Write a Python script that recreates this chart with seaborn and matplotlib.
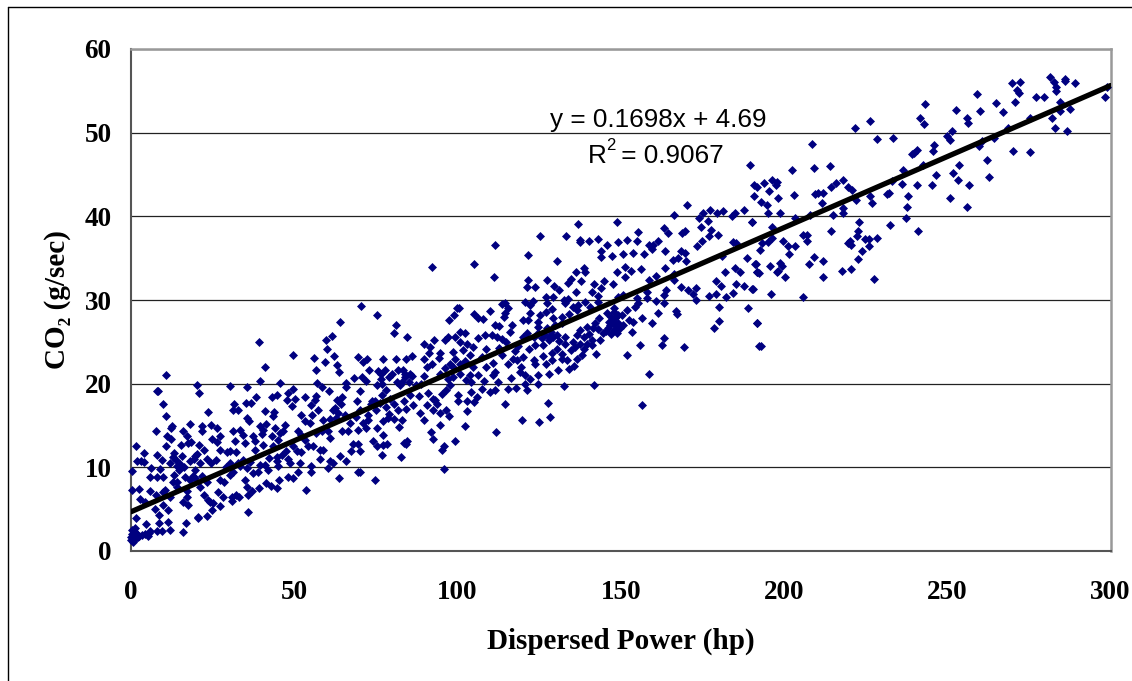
import pandas as pd
import matplotlib
matplotlib.use('Agg')
import matplotlib.pyplot as plt
from matplotlib.lines import Line2D
import seaborn as sns

# (dispersed power, co2), split by power range
idle_cluster = [(0, 1.3), (0.3, 2), (0.5, 1.6), (0.8, 2.4), (1, 1.4), (1.2, 1.9), (0.2, 2.5), (1.5, 2.2), (1.6, 1.5),
                (0.6, 1.1), (2, 1.7), (2.5, 1.8), (3.5, 1.9), (4.2, 2), (5.2, 1.8), (5.6, 2.1), (1.1, 2.8), (0.1, 1.7)]
band_0_25 = [(0.4, 9.6), (0.4, 7.25), (1.5, 12.6), (2.4, 7.4), (2.8, 6.2), (1.4, 3.9), (1.9, 10.7), (3, 10.8), (4, 10.6),
             (3.9, 11.7), (4.4, 5.9), (4.5, 3.2), (5.9, 7.2), (6.2, 9.9), (5.8, 8.9), (7.9, 8.9), (7.6, 14.4), (8, 11.5),
             (8.3, 19.1), (8, 19.1), (9.9, 17.6), (10.6, 21), (10.6, 16.1), (7.8, 6.7), (7.2, 5), (8.5, 4.3), (8.6, 3.3),
             (8.1, 2.4), (9.5, 2.4), (5.8, 2.4), (11.4, 3.5), (11.9, 2.5), (11.4, 4.9), (9.7, 5.5), (10.4, 7.3), (9.8, 7),
             (11.9, 6.5), (9.9, 8.9), (8.9, 9.8), (9.4, 10.9), (10.6, 12.5), (10.9, 13.7), (12.4, 13.4), (12.7, 14.9),
             (12.3, 14.7), (11.9, 10.5), (13.2, 11.7), (13.8, 10.9), (14, 10.1), (13.3, 9.1), (12.8, 8.2), (14, 7.7),
             (15.8, 14.4), (17.3, 13.8), (18.1, 15.2), (15.3, 12.7), (15.5, 11.3), (18.4, 13), (20.1, 19.9), (20.8, 18.9),
             (23.7, 16.6), (21.6, 14.9), (21.7, 14.4), (24.4, 15.1), (18.1, 10.7), (19.6, 11.3), (20.8, 12.7), (22.3, 12.1),
             (21.1, 10.5), (16.5, 8.9), (18.1, 8.5), (19.6, 8.7), (19.6, 9.7), (21.8, 9), (23.2, 8.3), (21.1, 7.7),
             (22.3, 6.7), (23.5, 6.1), (24.2, 5.9), (23.4, 4.2), (20.6, 3.9), (20.5, 4.1), (16.8, 3.3), (15.8, 2.3),
             (15.8, 5.9), (17.6, 5.5), (17.2, 6.5), (16.3, 10), (17, 7.2), (14.6, 9.7), (15, 10.4), (12.9, 11.2),
             (19.2, 11), (20.2, 11.6), (17.5, 12.9), (23.2, 11), (24.4, 10.5), (18.9, 9), (14.2, 8.2)]
band_25_50 = [(26.2, 14.7), (27.2, 13.8), (24.7, 13.4), (26.2, 13), (27.2, 12.1), (29.3, 11.8), (30.3, 12), (30.4, 19.7),
              (35.6, 19.6), (31.6, 17.6), (31.3, 16.9), (32.9, 16.9), (35.2, 17.7), (36.9, 17.7), (38.4, 18.4), (35.4, 15.9),
              (36.2, 15.5), (39.2, 25), (39.5, 20.3), (41.1, 22), (45.5, 20.1), (41.1, 16.7), (43.6, 16.1), (43.3, 18.4),
              (44.7, 18.7), (43.8, 16.6), (39.6, 15), (41.3, 15.2), (40.5, 14.5), (31.3, 14.3), (33.4, 14.5), (34.2, 13.9),
              (31.8, 13.1), (32.3, 11.8), (37.4, 13.7), (38, 13.1), (38, 12.1), (40.3, 12.7), (43.1, 13.7), (44.1, 14.7),
              (45.6, 14.1), (47.1, 15.1), (46.6, 14.3), (45.1, 13.3), (43.4, 12.5), (30.3, 10.5), (32.9, 10.5), (34.4, 10.9),
              (35.4, 9.9), (31.3, 9.5), (30.3, 9.1), (27.2, 8.5), (28.5, 8.3), (26.7, 7), (28.1, 6.4), (25.2, 5.7), (27.2, 5.4),
              (24.7, 4.9), (30.8, 6.5), (30.8, 6), (32.3, 6.7), (33.2, 6.4), (35.9, 4.7), (35.9, 6.7), (37.2, 7.2), (39.2, 7.5),
              (34.9, 8.5), (35.4, 7.7), (37.4, 9.3), (39, 9.5), (39.5, 10.3), (42, 9.7), (41.5, 8.1), (42.8, 7.8), (44.6, 7.5),
              (45.4, 8.5), (45.1, 10.1), (44.6, 10.7), (46.1, 11.5), (48.2, 11), (48.7, 10.5), (48.2, 8.9), (49.5, 8.7),
              (49.7, 23.4), (48.2, 18.9), (49.7, 19.4), (47.9, 18), (49.2, 17.3), (49.7, 12.5), (47.5, 12), (36.4, 10.6),
              (33.5, 10.2), (41, 10.3), (42.3, 11.1), (26, 10.9), (29, 10), (44.7, 11.2), (40, 14), (34.8, 12.9)]
band_50_75 = [(51, 9.4), (51.7, 10.5), (53.7, 7.3), (55.1, 9.5), (55, 10.2), (58, 11), (60.4, 9.9), (60.9, 10.8), (61.9, 10.5),
              (63.7, 8.7), (64, 11.3), (65.8, 10.8), (67.3, 11.9), (68.1, 12.8), (69.6, 12.8), (70.1, 11.9), (69.6, 9.5), (70.1, 9.4),
              (74.7, 8.5), (50.2, 18.2), (53.3, 18.4), (52, 16.3), (56, 23.1), (59.7, 25.2), (60.1, 24.2), (61.7, 25.7), (64, 27.4),
              (59.4, 22.6), (62.2, 23.3), (63, 22.2), (63.7, 21.4), (56.8, 21.6), (57.1, 20.1), (58.4, 19.6), (60.6, 19.1), (66, 20.1),
              (66, 19.6), (64.7, 18.4), (63.2, 18.1), (56.8, 18.5), (56.3, 18.1), (55.2, 17.4), (57.3, 16.8), (55.5, 16.2), (58.9, 15.6),
              (60.9, 15.8), (62.4, 17.1), (63.5, 16.5), (54.8, 15.3), (53.3, 15.5), (51.2, 14.3), (52.2, 13.9), (53.3, 13.3), (54.3, 12.5),
              (55.8, 12.5), (57.9, 12.1), (58.9, 12.1), (50.7, 11.9), (52.2, 11.8), (56.8, 14.1), (58.4, 14.3), (60.4, 14.3), (61.1, 13.5),
              (64.5, 14.3), (66.5, 14.3), (67, 15.3), (69.6, 23.2), (70.4, 29.3), (75.3, 28.2), (71.1, 22.6), (72.4, 23), (72.9, 21.6),
              (68.3, 20.7), (70.6, 20.8), (72.1, 20.3), (75.2, 19.9), (70, 19.1), (69.2, 17.9), (73.7, 17.9), (70.1, 16.9), (72.7, 16.3),
              (68.9, 16), (75.2, 14.7), (71.1, 15.3), (69.6, 14.5), (72.1, 14.7), (74.2, 13.1), (75.2, 12.5), (75.7, 21.5), (62.8, 15.9),
              (61.8, 16.9), (64.2, 17.6), (65.4, 16.2), (73.4, 17.6), (74.6, 17.9), (72.5, 15.7), (74.9, 16.8)]
band_75_100 = [(92.3, 34), (95.9, 9.8), (96, 12.5), (95.3, 12.1), (92.6, 13.4), (91.8, 14.2), (82.8, 11.2), (76.8, 11.5), (77.3, 12.7),
               (78.5, 12.8), (77.3, 13.9), (83.7, 12.9), (84.5, 13.2), (82, 14.8), (83, 15.7), (80.4, 15.8), (77.3, 15.5), (94.7, 15.1),
               (97.5, 16.1), (96.5, 16.9), (94.7, 16.5), (92.6, 16.9), (89.8, 15.7), (88.6, 16.5), (86.5, 17.4), (81.9, 16.9), (84.3, 17),
               (83.5, 17.9), (80.4, 17.6), (93.7, 17.6), (90.8, 17.4), (88.3, 18.5), (91.1, 18.9), (92.6, 18.2), (85.3, 18.6), (95.2, 18.8),
               (96.4, 19.2), (97.7, 19.8), (97.2, 20.6), (89.8, 20.9), (86.2, 20.9), (84, 20.8), (82.9, 20.2), (81.4, 20.2), (85, 20.2),
               (81.9, 21.6), (77.8, 21.6), (77.1, 22.9), (81.1, 23), (84.1, 23), (86.2, 23.3), (80.6, 26), (81.2, 27), (84.5, 25.6),
               (89.8, 24.8), (91.6, 24.4), (91.4, 23.7), (89.8, 22.9), (92.1, 22.4), (90.8, 22), (94.2, 23.1), (94.7, 23.7), (98.5, 23.8),
               (97.7, 22.4), (98.6, 22), (96.2, 25.2), (97.2, 25.6), (99.3, 25.6), (97.5, 27.6), (99, 28.2), (99.8, 29.1), (79, 20.8),
               (80, 21.1), (82.5, 19.9), (78.2, 19.2), (79.4, 18.2), (76.4, 17.7), (76.8, 18.7), (78.1, 17.2), (83.3, 21.6), (83.9, 21.2),
               (85.5, 21.2), (87.2, 19.8), (78.6, 15.9), (79.1, 16.4), (76.5, 20.6), (77, 20), (76.6, 21.2), (84.2, 12.8), (93.1, 18),
               (98.7, 20.8), (88.9, 20), (94.5, 21.2), (96.3, 21.9), (99.1, 23), (92.8, 25.2)]
band_100_125 = [(105, 34.3), (111.6, 36.6), (111.1, 32.8), (121.7, 35.4), (99.2, 13.2), (111.9, 14.2), (102.2, 15), (103, 16.7),
                (119.7, 15.7), (124.9, 15.4), (114.4, 17.6), (100.3, 18.6), (100.3, 17.9), (102.8, 17.9), (105.2, 17.8), (105.9, 18.4),
                (104, 19), (107.4, 19.4), (108, 20.3), (110, 19), (111.5, 19.2), (112.5, 20.2), (115.6, 19.4), (117.9, 19.5), (121.3, 19.2),
                (120.7, 20), (122.2, 20.6), (124.8, 21), (124.8, 20), (123.8, 22.4), (123.3, 22.8), (120.2, 23.2), (119.2, 21.4),
                (120.7, 21), (116.5, 20.7), (118.2, 22.8), (115.6, 22.4), (111, 22.5), (111.5, 21.4), (111, 21), (108.6, 22), (108.6, 24.2),
                (104.9, 22), (103.7, 21), (102.6, 20.4), (104, 20.2), (100.8, 21.2), (100.8, 22.4), (102.3, 22.7), (101.8, 24), (103, 24.7),
                (104.7, 24.4), (103.9, 23.4), (100.8, 25), (100.8, 26.2), (102.3, 26.1), (100.6, 29), (105.2, 28.3), (106.4, 27.9),
                (107.7, 27.7), (109.9, 28.7), (111.5, 27), (112.8, 26.9), (106.4, 25.5), (108.5, 25.8), (110.5, 25.8), (112, 25.6),
                (113.6, 25.3), (114.9, 25), (113.6, 29.5), (114.6, 29.6), (115.6, 29), (114.6, 28.4), (114.1, 28), (116.6, 27), (116.1, 26.2),
                (120.2, 25.6), (121.2, 26), (120.2, 27.6), (121.7, 27.6), (122.2, 28.4), (120.7, 29.8), (122.2, 29.4), (123, 29.9),
                (121.5, 32.4), (121.4, 31.6), (123.8, 31.5), (124.8, 27.4), (123.8, 24.6), (124.8, 26), (124.8, 26.8), (123.3, 25.6),
                (117.5, 23.9), (118.6, 24.5), (119.5, 22), (113.7, 23.4), (106.3, 21), (107.5, 23.2), (112.7, 24.3), (116.9, 23), (122, 24.2)]
band_125_150 = [(125.2, 37.6), (133.2, 37.6), (136.9, 39.1), (148.8, 39.3), (130.5, 34.7), (137.5, 37.2), (137.6, 36.9), (140.4, 37),
                (143.1, 37.3), (145.7, 36.6), (149.2, 36.9), (144.1, 35.9), (144.1, 35.1), (147.3, 35.3), (127.8, 17.65), (128.4, 16),
                (132.5, 19.7), (141.7, 19.8), (128, 21.2), (130.9, 21.6), (134.3, 21.8), (135.7, 22.1), (128.9, 22.8), (127, 22.4),
                (126.3, 23.3), (142.3, 23.6), (127.3, 32.35), (129.6, 31.7), (127, 30.3), (129.4, 30.4), (131.1, 31.2), (133.7, 32),
                (134.7, 32.5), (137.8, 32.3), (136.2, 31), (136.2, 33.4), (138.7, 33.8), (139.1, 33.3), (141.9, 31.9), (143.8, 31.4),
                (144.9, 32.3), (147.5, 31.9), (148.7, 33.4), (141.2, 30.9), (142.9, 30.5), (142.9, 29.8), (139.1, 29.8), (137, 29.4),
                (135.5, 29.2), (132.5, 30), (133.8, 30.1), (133, 29.6), (127.3, 29.6), (127, 28.6), (128.9, 28.9), (125.3, 28.2),
                (129.1, 27.8), (132, 28), (134, 28.3), (136.5, 28.8), (140.6, 29.2), (143.4, 27.8), (145.7, 28.5), (147.8, 29),
                (149.3, 30.4), (147.8, 27.2), (146.7, 27), (147.8, 26.4), (148.8, 26), (149.8, 26.6), (148.3, 27.8), (146.2, 26.6),
                (147.3, 27.6), (149.3, 27.2), (144.7, 26), (147.8, 28.6), (143.7, 25.2), (141.6, 26.6), (139.6, 26.8), (137.6, 26.4),
                (136.5, 25.8), (138.6, 25.6), (141.1, 25.2), (139.6, 24.8), (137.6, 24.8), (136, 24.4), (138.6, 24.2), (141.1, 24.6),
                (138.1, 23.4), (136.5, 23), (133, 24.8), (133, 25.6), (132, 23.6), (133.5, 22.8), (132, 23), (130.4, 24.2), (128.9, 23.7),
                (129.4, 25.6), (127.9, 25.2), (126.3, 24.6), (127.3, 26.6), (130.4, 25.8), (129.9, 27), (132, 27.2), (127.9, 25.6),
                (125.8, 25.4), (126.5, 25.9), (128.5, 26.2), (131, 25.1), (134.8, 24), (135.3, 25), (140.3, 25.9), (146.5, 27.4),
                (148.5, 26.9), (145.5, 26.3), (149.2, 28.2), (147, 28), (143, 26.5), (146.9, 25.9), (142, 27.2)]
band_150_200 = [(152, 37.2), (155, 37.1), (155.3, 38.1), (150.8, 35.5), (153.7, 35.6), (157.2, 35.5), (158.8, 36.6), (160, 36.6), (159.5, 36.1),
                (161.4, 37.1), (163.7, 35.9), (163.3, 38.6), (164.5, 38), (166.4, 40.1), (170.4, 41.3), (168.7, 38), (169.7, 38.2), (168.6, 35.8),
                (169.7, 35.6), (166.1, 34.8), (167.5, 35), (170, 34.7), (173.3, 36.5), (174.9, 37), (174.7, 38.7), (174.1, 39.8), (175.1, 40.4),
                (177.4, 40.7), (179.4, 40.4), (181.4, 40.6), (176.7, 39.5), (177.6, 38.4), (176.9, 37.6), (179.8, 37.8), (184, 40), (185, 40.4),
                (187.7, 40.7), (190.3, 39.3), (184.5, 36.9), (185.3, 36.8), (188.8, 35), (191.4, 34.3), (181.1, 35.2), (181.8, 33.4), (179.1, 32.3),
                (180.7, 31.7), (176.9, 30.5), (179.2, 30.7), (182.1, 30.4), (184.3, 30.8), (185.1, 33.8), (186.6, 33.3), (185.3, 31.9), (187.8, 31.7),
                (190.3, 31.3), (191.7, 33.4), (188.9, 29), (191.8, 27.2), (192.4, 24.5), (180, 29.2), (180, 27.5), (178.7, 26.7), (167, 28.7),
                (167.2, 28.3), (169.3, 24.4), (163.2, 25.5), (162.5, 24.6), (159.7, 27.3), (156.4, 27.9), (161.5, 28.4), (153.4, 26.2), (155.9, 24.6),
                (152, 23.4), (158.8, 21.1), (156.4, 17.5), (151.2, 33.9), (153.1, 33.5), (156.1, 33.7), (151.2, 32.8), (150.8, 30.6), (154.9, 30.2),
                (158, 31), (158.5, 32.4), (160.7, 32.9), (163.6, 33.8), (166.4, 33.1), (166.3, 32.4), (163.9, 31.2), (163.1, 30.6), (163.3, 29.6),
                (160.7, 29.9), (158, 30.2), (168.6, 31.6), (170.7, 31.2), (173.1, 31.4), (172.1, 30.7), (173.2, 30), (155.4, 29.6), (154.4, 29.2),
                (151.9, 28.8), (150.3, 28.2), (153.9, 27.4), (152.4, 27.6), (150.8, 27), (189.6, 46.1), (190.7, 43.7), (191.6, 43.5), (194, 44),
                (196.2, 44.3), (197.8, 44.1), (197.6, 43.7), (195.3, 43), (190.7, 42.4), (193, 41.7), (194.9, 41.3), (195, 40.4), (198.3, 42.2),
                (198.8, 40.4), (190.3, 39.3), (196.4, 38.7), (196.4, 37.4), (195.2, 36.9), (193.2, 36.8), (192.5, 36), (199.8, 37.1), (191.1, 34.3),
                (195.7, 34.1), (198.8, 34.4), (199.3, 34.1), (197.8, 33.3), (198.3, 33.5), (191.6, 33.4), (192.2, 33.2), (190.4, 31.3), (196.1, 30.7),
                (191.8, 27.2), (193, 24.5)]
band_200_250 = [(200.3, 32.8), (202.3, 45.5), (203.2, 42.6), (203.4, 39.8), (201.3, 36.5), (203.5, 36.4), (201.5, 35.5), (205.9, 37.8),
                (207, 37.8), (207, 37), (205.8, 30.4), (207.8, 34.3), (209.2, 35.1), (212, 34.7), (211.9, 32.7), (217.9, 33.5), (220.4, 33.7),
                (222.6, 34.9), (224, 35.8), (226.1, 36.5), (227.6, 32.5), (219.7, 36.8), (220.5, 36.6), (220.2, 37.1), (222.5, 37.6), (222.6, 38.2),
                (224.8, 37.3), (226.1, 37.3), (228.4, 37.4), (214.5, 38.2), (222.9, 39.3), (215.1, 40.1), (218, 40.4), (218.2, 41), (211.5, 41.6),
                (208, 40.2), (222.1, 41.9), (209.5, 42.7), (210.5, 42.8), (212, 42.8), (209.1, 45.8), (208.7, 48.6), (214.2, 46), (214.4, 43.5),
                (215.8, 44), (218, 44.3), (219.7, 43.5), (220.7, 43.2), (221.6, 50.6), (226.4, 51.4), (228.4, 49.2), (233.3, 49.4), (226.4, 42.4),
                (227.1, 41.6), (231.5, 42.7), (232.2, 42.8), (233, 44.2), (236.2, 43.9), (236.4, 45.5), (238, 42.4), (237.8, 41.1), (237.3, 39.8),
                (232.5, 39), (241, 38.3), (240.6, 43.8), (245.2, 43.8), (246.5, 45), (242.5, 46.1), (239.3, 47.4), (239.9, 47.6), (240.6, 47.9),
                (245.5, 47.8), (246, 48.5), (241.7, 51.7), (242.9, 51), (243.3, 53.4), (249.8, 49.6)]
band_250_300 = [(250.9, 49.1), (251.6, 50.2), (252.7, 52.7), (256.2, 51.7), (256.5, 51.2), (251.8, 45.2), (253.6, 46.1), (253.3, 44.3),
                (256.7, 43.8), (250.8, 42.2), (255.9, 41.1), (259.8, 48.4), (260.6, 49), (264.2, 49.4), (262.3, 46.7), (262.9, 44.7), (259.1, 54.6),
                (260.1, 52.6), (264.8, 53.5), (267.2, 52.5), (268.7, 50.6), (270.2, 47.8), (275.4, 47.7), (275.2, 51.8), (270.8, 53.7), (271.3, 55.1),
                (272, 54.8), (269.9, 55.9), (272.4, 56.1), (277.2, 54.3), (279.5, 54.3), (281.5, 56.6), (282.7, 56), (283.2, 55.4), (283.2, 55),
                (282, 51.8), (282.9, 50.5), (284.6, 53.7), (284.5, 52.6), (287.6, 52.8), (286.8, 50.2), (286.1, 56.4), (286.1, 56.2), (289.1, 55.9),
                (298.3, 54.3), (298.9, 55.5)]

trend_slope = 0.1698
trend_intercept = 4.69
trend_power = [0, 300]

x_ticks = [0, 50, 100, 150, 200, 250, 300]
y_ticks = [0, 10, 20, 30, 40, 50, 60]

all_points = (idle_cluster + band_0_25 + band_25_50 + band_50_75 + band_75_100 + band_100_125
              + band_125_150 + band_150_200 + band_200_250 + band_250_300)
df = pd.DataFrame(all_points, columns=['power', 'co2'])
trend = pd.DataFrame({'power': trend_power})
trend['co2'] = trend_slope * trend['power'] + trend_intercept

sns.set_theme(style='white')
plt.rcParams['font.family'] = ['Liberation Serif', 'DejaVu Serif']
plt.rcParams['text.color'] = 'black'
plt.rcParams['axes.labelcolor'] = 'black'

fig = plt.figure(figsize=(11.32, 6.81), dpi=100)
ax = fig.add_axes([131 / 1132, 1 - 551 / 681, (1110.5 - 131) / 1132, (551 - 49) / 681])

ax.grid(True, axis='y', color='#222222', linewidth=0.9)
ax.set_axisbelow(True)
sns.scatterplot(data=df, x='power', y='co2', marker='D', s=21, color='#000080', linewidth=0, ax=ax, clip_on=False, zorder=3)
sns.lineplot(data=trend, x='power', y='co2', color='black', linewidth=3.8, ax=ax, zorder=4)

ax.set_xlim(0, 300)
ax.set_ylim(0, 60)
ax.set_xticks(x_ticks)
ax.set_yticks(y_ticks)
ax.tick_params(axis='both', direction='out', length=6, width=1, color='#555555', labelcolor='black', labelsize=19.5)
ax.tick_params(axis='x', pad=15)
ax.tick_params(axis='y', pad=8)
for lab in ax.get_xticklabels() + ax.get_yticklabels():
    lab.set_fontweight('bold')

for side in ['left', 'bottom']:
    ax.spines[side].set_color('#555555')
    ax.spines[side].set_linewidth(1.5)
for side in ['top', 'right']:
    ax.spines[side].set_color('#999999')
    ax.spines[side].set_linewidth(1.8)

ax.set_xlabel('Dispersed Power (hp)', fontsize=21, fontweight='bold', labelpad=16)
ax.set_ylabel('CO₂ (g/sec)', fontsize=21, fontweight='bold', labelpad=10)

ax.text(161.5, 51.5, 'y = 0.1698x + 4.69', family='Liberation Sans', fontsize=18.8, ha='center', va='center', zorder=5)
ax.annotate('R', (0, 0), xytext=(588, 681 - 156), xycoords='figure pixels', textcoords='figure pixels',
            family='Liberation Sans', fontsize=18.8, va='center', ha='left', zorder=5)
ax.annotate('2', (0, 0), xytext=(606, 681 - 146), xycoords='figure pixels', textcoords='figure pixels',
            family='Liberation Sans', fontsize=12, va='center', ha='left', zorder=5)
ax.annotate(' = 0.9067', (0, 0), xytext=(614, 681 - 156), xycoords='figure pixels', textcoords='figure pixels',
            family='Liberation Sans', fontsize=18.8, va='center', ha='left', zorder=5)

# outer chart frame
fig.add_artist(Line2D([8 / 1132, 8 / 1132], [0, 1 - 6.5 / 681], color='black', linewidth=1))
fig.add_artist(Line2D([8 / 1132, 1], [1 - 6.5 / 681, 1 - 6.5 / 681], color='black', linewidth=1))

fig.savefig('out.png', dpi=100, facecolor='white')
